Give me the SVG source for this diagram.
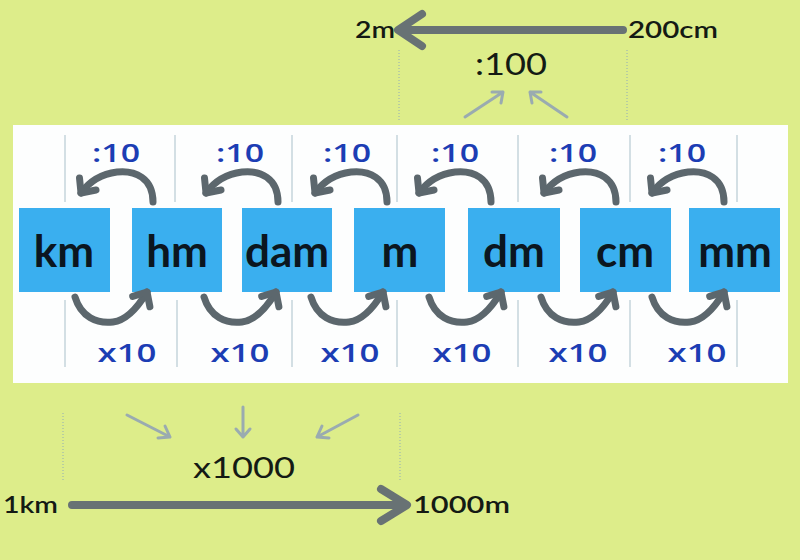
<svg xmlns="http://www.w3.org/2000/svg" xmlns:xlink="http://www.w3.org/1999/xlink" width="800" height="560" viewBox="0 0 800 560">
  <style>
    .bg { fill: #DDED8A; }
    .panel { fill: #FDFEFE; }
    .box { fill: #3AAFEF; }
    .unit { font-family: Lato, "Open Sans", "Liberation Sans", sans-serif; font-weight: 700; font-size: 44px; fill: #0B1620; text-anchor: middle; }
    .op { font-family: "Open Sans", Lato, "Liberation Sans", sans-serif; font-weight: 600; font-size: 26px; fill: #1C3DB4; text-anchor: middle; }
    .dark { font-family: Lato, "Liberation Sans", sans-serif; fill: #141A14; }
    .lbl { font-size: 22px; font-weight: 600; }
    .guide { stroke: #C9D8DE; stroke-width: 1.6; fill: none; }
    .dots { stroke: #9FB8B0; stroke-width: 1.2; stroke-dasharray: 1 2; fill: none; }
    .curve { stroke: #5C676D; stroke-width: 7; fill: none; stroke-linecap: round; stroke-linejoin: round; }
    .big { stroke: #687274; stroke-width: 8; fill: none; stroke-linecap: round; stroke-linejoin: round; }
    .thin { stroke: #9AABB0; stroke-width: 3; fill: none; stroke-linecap: round; stroke-linejoin: round; }
  </style>
  <defs>
    <g id="arcTop">
      <path class="curve" d="M36,30 C36,6 18,-2 0,0 C-16,2 -28,10 -36,21"/>
      <path class="curve" d="M-37.5,6 L-36,21 L-21,18"/>
    </g>
    <g id="arcBot">
      <path class="curve" d="M-36,-25 C-30,-5 -14,2 2,0 C18,-2 30,-20 36,-30"/>
      <path class="curve" d="M21.7,-25.6 L36,-30 L38.9,-15.3"/>
    </g>
  </defs>

  <rect class="bg" x="0" y="0" width="800" height="560"/>
  <rect class="panel" x="13" y="125" width="775" height="258"/>

  <g id="guides">
    <path class="guide" d="M65,135 V202 M175,135 V202 M292,135 V202 M397,135 V202 M518,135 V202 M630,135 V202 M737,135 V202"/>
    <path class="guide" d="M65,300 V367 M177,300 V367 M292,300 V367 M397,300 V367 M518,300 V367 M630,300 V367 M737,300 V367"/>
    <path class="dots" d="M399,50 V120 M627,50 V120 M63,413 V482 M400,413 V482"/>
  </g>

  <g id="node-km"><rect class="box" x="19" y="208" width="91" height="84"/><text class="unit" x="64" y="267">km</text></g>
  <g id="node-hm"><rect class="box" x="132" y="208" width="90" height="84"/><text class="unit" x="177" y="267">hm</text></g>
  <g id="node-dam"><rect class="box" x="242" y="208" width="90" height="84"/><text class="unit" x="287" y="267">dam</text></g>
  <g id="node-m"><rect class="box" x="354" y="208" width="91" height="84"/><text class="unit" x="400" y="267">m</text></g>
  <g id="node-dm"><rect class="box" x="468" y="208" width="92" height="84"/><text class="unit" x="514" y="267">dm</text></g>
  <g id="node-cm"><rect class="box" x="580" y="208" width="91" height="84"/><text class="unit" x="625" y="267">cm</text></g>
  <g id="node-mm"><rect class="box" x="689" y="208" width="91" height="84"/><text class="unit" x="735" y="267">mm</text></g>

  <g id="connectors">
    <use xlink:href="#arcTop" x="117" y="172"/>
    <use xlink:href="#arcTop" x="242" y="172"/>
    <use xlink:href="#arcTop" x="351" y="172"/>
    <use xlink:href="#arcTop" x="455" y="172"/>
    <use xlink:href="#arcTop" x="580" y="172"/>
    <use xlink:href="#arcTop" x="688" y="172"/>
    <use xlink:href="#arcBot" x="111" y="322"/>
    <use xlink:href="#arcBot" x="240" y="322"/>
    <use xlink:href="#arcBot" x="347" y="322"/>
    <use xlink:href="#arcBot" x="465" y="322"/>
    <use xlink:href="#arcBot" x="577" y="322"/>
    <use xlink:href="#arcBot" x="688" y="322"/>
    <path class="big" d="M623,30 H400 M422,14 L398,30 L422,46"/>
    <path class="big" d="M72,505 H405 M381,489 L407,505 L381,521"/>
    <path class="thin" d="M465,117 L503,92 M492,92 L503,92 L501,103"/>
    <path class="thin" d="M567,117 L530,92 M541,92 L530,92 L532,103"/>
    <path class="thin" d="M127,415 L170,437 M165,426 L170,437 L158,438"/>
    <path class="thin" d="M243,407 V437 M236,429 L243,437 L250,429"/>
    <path class="thin" d="M358,415 L317,437 M322,426 L317,437 L329,438"/>
  </g>

  <g id="labels">
    <text class="op" x="116" y="162" textLength="48" lengthAdjust="spacingAndGlyphs">:10</text>
    <text class="op" x="240" y="162" textLength="48" lengthAdjust="spacingAndGlyphs">:10</text>
    <text class="op" x="347" y="162" textLength="48" lengthAdjust="spacingAndGlyphs">:10</text>
    <text class="op" x="455" y="162" textLength="48" lengthAdjust="spacingAndGlyphs">:10</text>
    <text class="op" x="573" y="162" textLength="48" lengthAdjust="spacingAndGlyphs">:10</text>
    <text class="op" x="682" y="162" textLength="48" lengthAdjust="spacingAndGlyphs">:10</text>
    <text class="op" x="127" y="362" textLength="59" lengthAdjust="spacingAndGlyphs">x10</text>
    <text class="op" x="240" y="362" textLength="59" lengthAdjust="spacingAndGlyphs">x10</text>
    <text class="op" x="350" y="362" textLength="59" lengthAdjust="spacingAndGlyphs">x10</text>
    <text class="op" x="462" y="362" textLength="59" lengthAdjust="spacingAndGlyphs">x10</text>
    <text class="op" x="578" y="362" textLength="59" lengthAdjust="spacingAndGlyphs">x10</text>
    <text class="op" x="697" y="362" textLength="59" lengthAdjust="spacingAndGlyphs">x10</text>
    <text class="dark lbl" x="355" y="38" textLength="40" lengthAdjust="spacingAndGlyphs">2m</text>
    <text class="dark lbl" x="628" y="38" textLength="90" lengthAdjust="spacingAndGlyphs">200cm</text>
    <text class="dark" x="511" y="75" font-size="31" text-anchor="middle" textLength="72" lengthAdjust="spacingAndGlyphs">:100</text>
    <text class="dark" x="244" y="478" font-size="28" text-anchor="middle" textLength="102" lengthAdjust="spacingAndGlyphs">x1000</text>
    <text class="dark lbl" x="3" y="513" textLength="55" lengthAdjust="spacingAndGlyphs">1km</text>
    <text class="dark lbl" x="413" y="513" textLength="97" lengthAdjust="spacingAndGlyphs">1000m</text>
  </g>
</svg>
